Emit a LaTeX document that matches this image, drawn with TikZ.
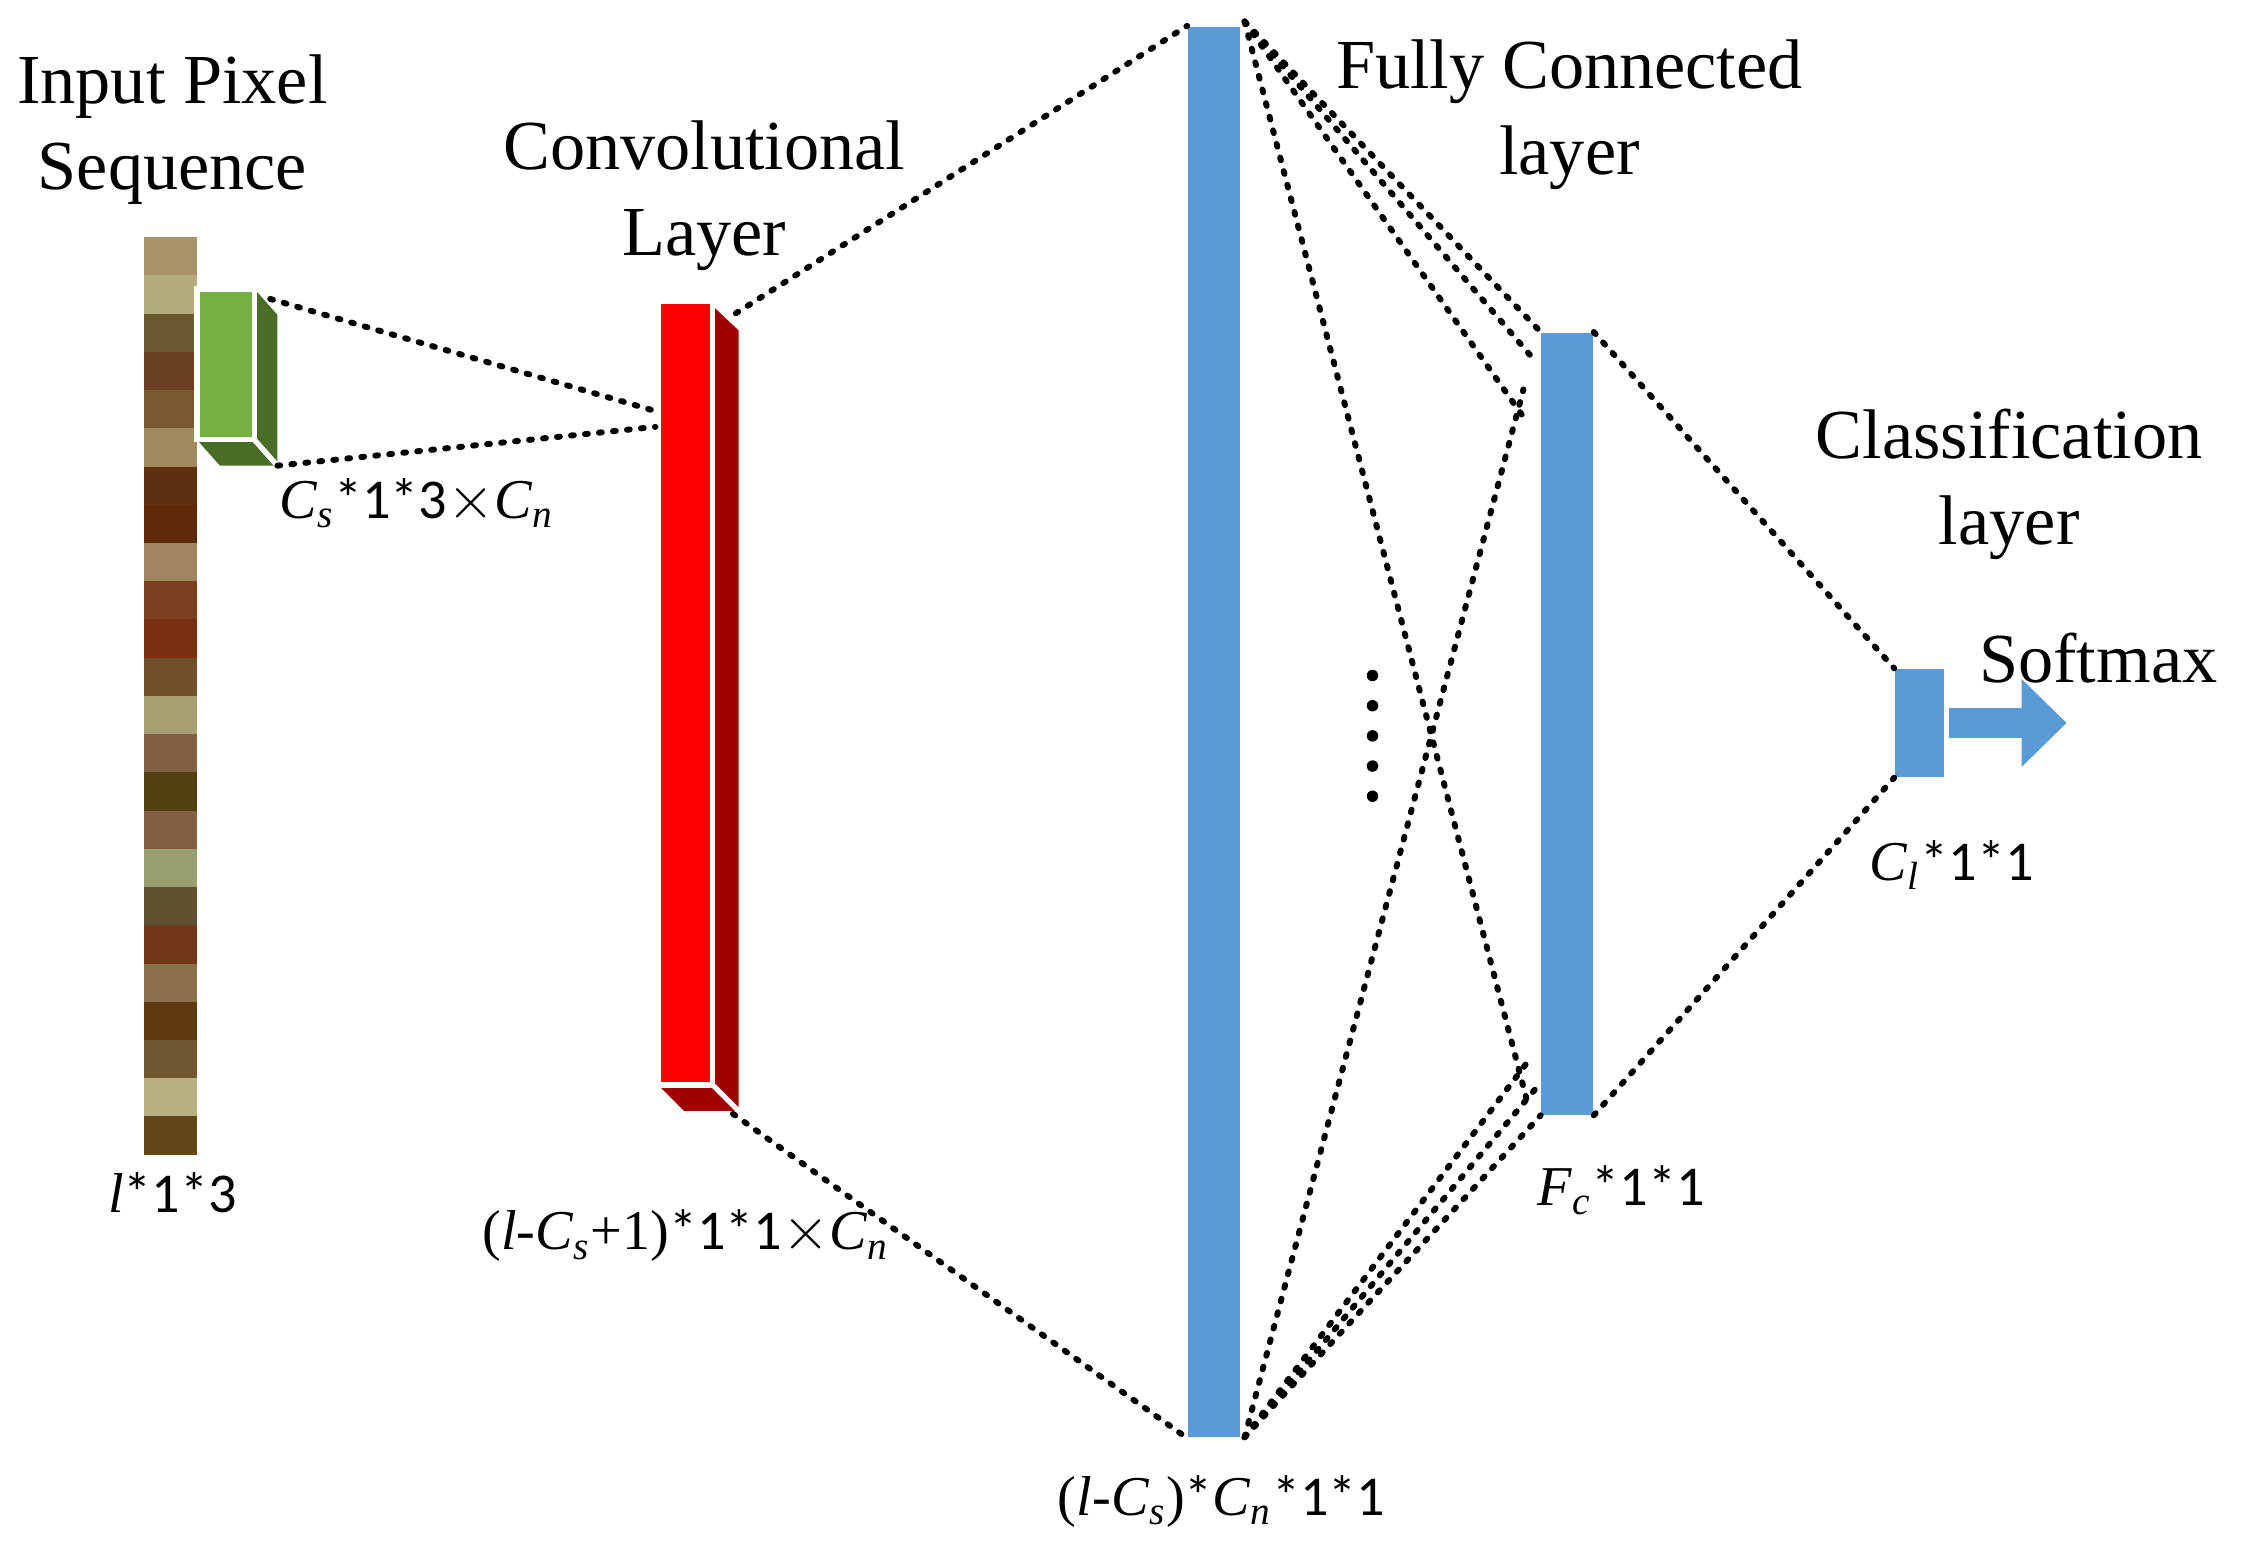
\documentclass[tikz,border=0pt]{standalone}
\usepackage{fontspec}
\setmainfont{Liberation Serif}
\newfontfamily\digitfont{Carlito}
\usetikzlibrary{calc, shapes, arrows.meta}
\definecolor{barblue}{HTML}{5B9BD5}
\definecolor{convred}{HTML}{FF0000}
\definecolor{convdark}{HTML}{A00000}
\definecolor{kerngreen}{HTML}{76B043}
\definecolor{kerndark}{HTML}{4A6E28}
\newcommand{\mi}[1]{\textit{#1}}
\newcommand{\dg}[1]{{\digitfont #1}}

\begin{document}
\begin{tikzpicture}[x=0.01437cm, y=-0.01437cm]
\tikzstyle{line} = [draw, line width=1.7pt, line cap=round, dash pattern=on 0.8pt off 3.2pt]
\tikzstyle{title} = [align=center, font=\fontsize{20}{24.5}\selectfont]
\tikzstyle{dims} = [font=\fontsize{16}{19}\selectfont]
\tikzstyle{bar} = [rectangle, fill=barblue, inner sep=0pt, anchor=north west]
\useasboundingbox (0,0) rectangle (1560,1079);
% input pixel strip
\foreach \c [count=\i from 0] in {A89468,B5AC7E,6B5A30,6B4020,7A5830,A08A60,5E3010,5E2A0A,A08660,7A4020,7A3010,705028,A8A070,806040,504010,806040,98A070,605030,703818,8A7048,603810,705830,B8B080,604818}
  {\definecolor{px}{HTML}{\c}
   \fill[px] (100,{165+\i*26.6}) rectangle (137,{165+(\i+1)*26.6});}
% kernel box
\fill[kerndark] (177,201) -- (193,219) -- (193,324) -- (177,306) -- cycle;
\fill[kerndark] (137,306) -- (177,306) -- (193,324) -- (153,324) -- cycle;
\filldraw[fill=kerngreen, draw=white, line width=1.5pt] (137,201) rectangle (177,306);
\draw[white, line width=1.5pt] (177,306) -- (193,324);
\coordinate (K_t) at (188,208);
\coordinate (K_b) at (193,324);
% convolutional layer
\fill[convdark] (496,213) -- (514,230) -- (514,773) -- (496,755) -- cycle;
\fill[convdark] (458,755) -- (496,755) -- (514,773) -- (476,773) -- cycle;
\filldraw[fill=convred, draw=white, line width=1.5pt] (458,210) rectangle (496,755);
\draw[white, line width=1.5pt] (496,755) -- (514,773);
\coordinate (R_a) at (456,286);
\coordinate (R_b) at (456,297);
\coordinate (R_t) at (512,218);
\coordinate (R_d) at (510,775);
% bars
\node[bar, minimum width=0.517cm, minimum height=14.11cm] (B) at (826,18) {};
\node[bar, minimum width=0.517cm, minimum height=7.82cm] (F) at (1072,231) {};
\node[bar, minimum width=0.489cm, minimum height=1.08cm] (S) at (1318,465) {};
\coordinate (B_t) at (866,15);
\coordinate (B_b) at (866,1000);
% connectors
\path [line] (K_t) -- (R_a);
\path [line] (K_b) -- (R_b);
\path [line] (R_t) -- (B.north west);
\path [line] (R_d) -- (B.south west);
\path [line] (B_t) -- (F.north west);
\path [line] (B_t) -- ($(F.north west)+(-4,20)$);
\path [line] (B_t) -- ($(F.north west)+(-10,62)$);
\path [line] (B_t) -- ($(F.south west)+(-10,-12)$);
\path [line] (B_b) -- (F.south west);
\path [line] (B_b) -- ($(F.south west)+(-4,-18)$);
\path [line] (B_b) -- ($(F.south west)+(-10,-36)$);
\path [line] (B_b) -- ($(F.north west)+(-12,40)$);
\path [line] (F.north east) -- (S.north west);
\path [line] (F.south east) -- (S.south west);
\foreach \k in {0,...,4}
  \fill (955,{470+\k*21}) circle (4);
% softmax arrow
\coordinate (A_e) at (1438,503);
\draw[barblue, line width=0.3cm, -{Triangle[length=0.45cm, width=0.85cm]}] (1356,503) -- (A_e);
% labels
\node[title] (T_in) at (120,90) {Input Pixel\\Sequence};
\node[title] (T_conv) at (490,136) {Convolutional\\Layer};
\node[title] (T_fc) at (1092,80) {Fully Connected\\layer};
\node[title] (T_cls) at (1398,337) {Classification\\layer};
\node[title] (T_sm) at (1460,458) {Softmax};
\node[dims] (D_k) at (290,350) {\mi{C}\textsubscript{\mi{s}}\dg{*1*3}$\times$\mi{C}\textsubscript{\mi{n}}};
\node[dims] (D_in) at (120,830) {\mi{l}\dg{*1*3}};
\node[dims] (D_conv) at (477,860) {(\mi{l}-\mi{C}\textsubscript{\mi{s}}+1)\dg{*1*1}$\times$\mi{C}\textsubscript{\mi{n}}};
\node[dims] (D_b) at (850,1045) {(\mi{l}-\mi{C}\textsubscript{\mi{s}})\dg{*}\mi{C}\textsubscript{\mi{n}}\dg{*1*1}};
\node[dims] (D_f) at (1128,828) {\mi{F}\textsubscript{\mi{c}}\dg{*1*1}};
\node[dims] (D_s) at (1358,602) {\mi{C}\textsubscript{\mi{l}}\dg{*1*1}};
\end{tikzpicture}
\end{document}
